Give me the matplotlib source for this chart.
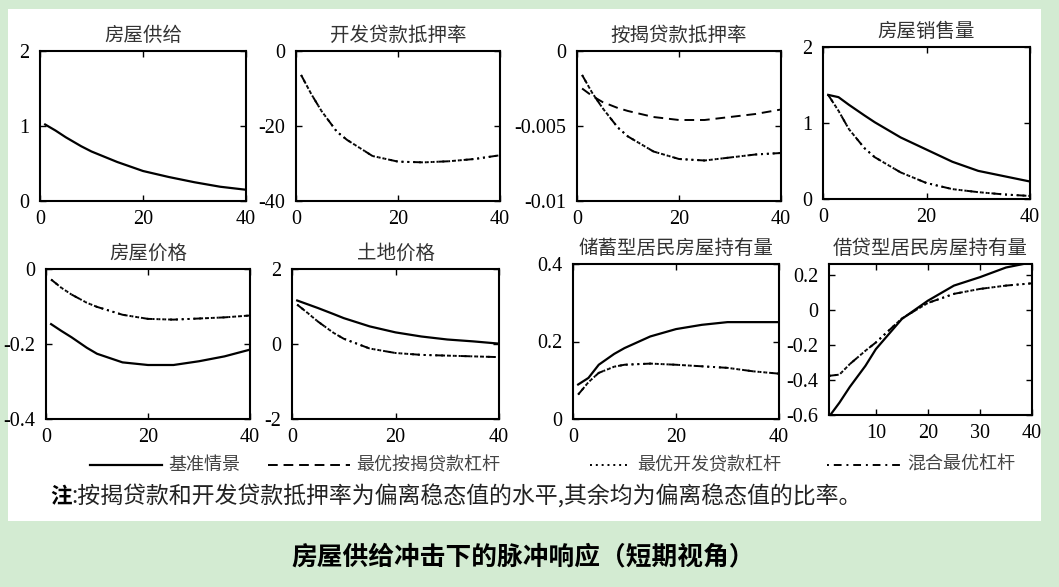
import matplotlib.pyplot as plt
from matplotlib.lines import Line2D
from matplotlib.patches import Rectangle

plt.rcParams['font.family'] = ['Liberation Serif', 'Noto Sans CJK SC']
plt.rcParams['axes.unicode_minus'] = False

CJK = ['Noto Sans CJK SC', 'DejaVu Sans']
BG = '#d3ebd2'

t = [1, 3, 5, 8, 10, 15, 20, 25, 30, 35, 40]

supply_base = [1.02, 0.94, 0.85, 0.73, 0.66, 0.52, 0.40, 0.32, 0.25, 0.19, 0.15]
devltv_mix = [-6.4, -11.5, -16.0, -21.5, -23.7, -28.0, -29.5, -29.7, -29.4, -28.8, -27.8]
mortltv_mort = [-0.0025, -0.0030, -0.0034, -0.0038, -0.0040, -0.0044, -0.0046, -0.0046, -0.0044, -0.0042, -0.0039]
mortltv_mix = [-0.0016, -0.0028, -0.0038, -0.0051, -0.0057, -0.0067, -0.0072, -0.0073, -0.0071, -0.0069, -0.0068]
sales_base = [1.37, 1.34, 1.24, 1.10, 1.01, 0.81, 0.65, 0.49, 0.37, 0.30, 0.23]
sales_mix = [1.37, 1.16, 0.92, 0.67, 0.55, 0.35, 0.21, 0.13, 0.09, 0.06, 0.04]
hprice_base = [-0.147, -0.165, -0.182, -0.21, -0.226, -0.249, -0.256, -0.256, -0.246, -0.233, -0.215]
hprice_mix = [-0.028, -0.050, -0.068, -0.090, -0.101, -0.122, -0.133, -0.135, -0.132, -0.129, -0.124]
land_base = [1.16, 1.06, 0.96, 0.80, 0.69, 0.47, 0.31, 0.20, 0.12, 0.07, 0.01]
land_mix = [1.05, 0.83, 0.60, 0.30, 0.14, -0.12, -0.24, -0.29, -0.31, -0.33, -0.35]
saver_base = [0.089, 0.106, 0.14, 0.168, 0.183, 0.213, 0.232, 0.243, 0.25, 0.25, 0.25]
saver_mix = [0.063, 0.095, 0.119, 0.135, 0.140, 0.143, 0.140, 0.136, 0.132, 0.123, 0.117]
borrow_base = [-0.61, -0.53, -0.44, -0.32, -0.225, -0.053, 0.051, 0.137, 0.185, 0.24, 0.27]
borrow_mix = [-0.377, -0.37, -0.31, -0.234, -0.187, -0.05, 0.038, 0.09, 0.118, 0.137, 0.15]

titles = ['房屋供给', '开发贷款抵押率', '按揭贷款抵押率', '房屋销售量',
          '房屋价格', '土地价格', '储蓄型居民房屋持有量', '借贷型居民房屋持有量']
legend_labels = ['基准情景', '最优按揭贷款杠杆', '最优开发贷款杠杆', '混合最优杠杆']

styles = {
    'base': dict(color='black', lw=1.6, ls='-'),
    'mort': dict(color='black', lw=1.4, ls=(0, (5, 3))),
    'dev': dict(color='black', lw=1.4, ls=(0, (1, 2))),
    'mix': dict(color='black', lw=1.4, ls=(0, (5, 2, 1, 2, 1, 2))),
}

# panel: (series list, ylim, yticks, yticklabels, xlim, xticks)
panels = [
    ([('base', supply_base)], (0, 2), [0, 1, 2], None, (0, 40), [0, 20, 40]),
    ([('dev', devltv_mix), ('mix', devltv_mix)], (-40, 0), [-40, -20, 0], None, (0, 40), [0, 20, 40]),
    ([('mort', mortltv_mort), ('dev', mortltv_mix), ('mix', mortltv_mix)], (-0.01, 0),
     [-0.01, -0.005, 0], ['-0.01', '-0.005', '0'], (0, 40), [0, 20, 40]),
    ([('base', sales_base), ('dev', sales_mix), ('mix', sales_mix)], (0, 2), [0, 1, 2], None, (0, 40), [0, 20, 40]),
    ([('base', hprice_base), ('dev', hprice_mix), ('mix', hprice_mix)], (-0.4, 0),
     [-0.4, -0.2, 0], ['-0.4', '-0.2', '0'], (0, 40), [0, 20, 40]),
    ([('base', land_base), ('dev', land_mix), ('mix', land_mix)], (-2, 2), [-2, 0, 2], None, (0, 40), [0, 20, 40]),
    ([('base', saver_base), ('dev', saver_mix), ('mix', saver_mix)], (0, 0.4),
     [0, 0.2, 0.4], ['0', '0.2', '0.4'], (0, 40), [0, 20, 40]),
    ([('base', borrow_base), ('dev', borrow_mix), ('mix', borrow_mix)], (-0.6, 0.26),
     [-0.6, -0.4, -0.2, 0, 0.2], ['-0.6', '-0.4', '-0.2', '0', '0.2'], (1, 40), [10, 20, 30, 40]),
]

# axes boxes in pixels: left, top, right, bottom
W, H = 1059, 587
boxes = [(40, 51, 246, 201), (296, 51, 500, 201), (577, 51, 781, 201), (823, 47, 1030, 199),
         (46, 269, 250, 419), (292, 269, 499, 419), (573, 264, 779, 419), (829, 264, 1032, 415)]

fig = plt.figure(figsize=(W / 100, H / 100), dpi=100, facecolor=BG)
fig.patches.append(Rectangle((8 / W, 1 - 521 / H), (1041 - 8) / W, (521 - 9) / H,
                             transform=fig.transFigure, facecolor='white', edgecolor='none', zorder=-10))

for (series, ylim, yt, ytl, xlim, xt), title, (l, tp, r, b) in zip(panels, titles, boxes):
    ax = fig.add_axes([l / W, 1 - b / H, (r - l) / W, (b - tp) / H])
    for key, vals in series:
        ax.plot(t, vals, **styles[key])
    ax.set_xlim(*xlim)
    ax.set_ylim(*ylim)
    ax.set_xticks(xt)
    ax.set_yticks(yt)
    if ytl:
        ax.set_yticklabels(ytl)
    ax.tick_params(direction='in', top=True, right=True, length=4, width=1, labelsize=14.5)
    ax.tick_params(axis='x', pad=6.5)
    ax.tick_params(axis='y', pad=7.5)
    for s in ax.spines.values():
        s.set_linewidth(1.5)
    ax.set_title(title, family=CJK, fontsize=14, color='#333333', pad=7)

# legend drawn by hand: line start, line end, text start (pixels)
leg_y = 1 - 465 / H
leg_pos = [(90, 162, 168), (268, 350, 356), (590, 627, 637), (827, 902, 907)]
for key, label, (x0, x1, xt0) in zip(['base', 'mort', 'dev', 'mix'], legend_labels, leg_pos):
    st = dict(styles[key])
    if key == 'mix':
        st['ls'] = (0, (1, 2.5, 4, 2.5))
    fig.add_artist(Line2D([x0 / W, x1 / W], [leg_y, leg_y], transform=fig.transFigure, **st))
    fig.text(xt0 / W, leg_y, label, family=CJK, fontsize=13, color='#444444', va='center')

fig.text(50 / W, 1 - 497 / H, '注', family=CJK, fontsize=15.5, fontweight='bold', va='center')
fig.text(71 / W, 1 - 497 / H, ':按揭贷款和开发贷款抵押率为偏离稳态值的水平,其余均为偏离稳态值的比率。',
         family=CJK, fontsize=16.5, va='center', color='#222222')

fig.text(523 / W, 1 - 557 / H, '房屋供给冲击下的脉冲响应（短期视角）', family=CJK, fontsize=18.5,
         fontweight='bold', ha='center', va='center')

# green margin on the right covers the clipped tick label, as in the source
fig.patches.append(Rectangle((1041 / W, 0), (W - 1041) / W, 1, transform=fig.transFigure,
                             facecolor=BG, edgecolor='none', zorder=10))

fig.savefig('out.png', dpi=100, facecolor=BG)
